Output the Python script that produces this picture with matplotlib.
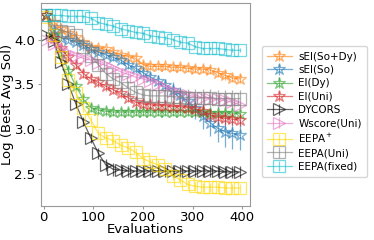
import matplotlib
matplotlib.use("Agg")
import matplotlib.pyplot as plt
import numpy as np

# evaluations (x positions of the recorded points)
evals = [5, 20, 35, 50, 65, 80, 95, 110, 125, 140, 155, 170, 185, 200,
         215, 230, 245, 260, 275, 290, 305, 320, 335, 350, 365, 380, 395]

sei_sody = [4.27, 4.20, 4.12, 4.07, 4.03, 3.97, 3.92, 3.91, 3.89, 3.86, 3.83, 3.81, 3.79, 3.72,
            3.70, 3.70, 3.70, 3.69, 3.69, 3.68, 3.67, 3.67, 3.66, 3.63, 3.60, 3.57, 3.56]
sei_so = [4.27, 4.10, 4.02, 4.00, 3.97, 3.94, 3.89, 3.86, 3.83, 3.80, 3.77, 3.72, 3.68, 3.63,
          3.58, 3.54, 3.49, 3.44, 3.38, 3.31, 3.23, 3.14, 3.07, 3.01, 2.97, 2.95, 2.93]
ei_dy = [4.27, 4.05, 3.85, 3.65, 3.48, 3.33, 3.24, 3.21, 3.20, 3.19, 3.19, 3.19, 3.19, 3.19,
         3.19, 3.19, 3.19, 3.19, 3.19, 3.19, 3.19, 3.19, 3.18, 3.18, 3.18, 3.18, 3.17]
ei_uni = [4.27, 4.02, 3.90, 3.80, 3.72, 3.62, 3.56, 3.52, 3.48, 3.44, 3.40, 3.35, 3.30, 3.28,
          3.27, 3.26, 3.26, 3.25, 3.25, 3.24, 3.22, 3.20, 3.16, 3.13, 3.12, 3.11, 3.10]
dycors = [4.05, 3.98, 3.75, 3.50, 3.28, 3.08, 2.90, 2.73, 2.60, 2.55, 2.54, 2.53, 2.53, 2.53,
          2.53, 2.53, 2.53, 2.53, 2.53, 2.53, 2.53, 2.53, 2.53, 2.53, 2.52, 2.52, 2.52]
wscore = [4.00, 3.95, 3.90, 3.85, 3.82, 3.79, 3.77, 3.74, 3.71, 3.68, 3.64, 3.61, 3.58, 3.56,
          3.54, 3.50, 3.47, 3.43, 3.40, 3.38, 3.36, 3.35, 3.34, 3.33, 3.32, 3.30, 3.27]
eepa_plus = [4.25, 4.05, 3.80, 3.55, 3.40, 3.24, 3.10, 2.95, 2.90, 2.87, 2.82, 2.79, 2.74, 2.67,
             2.63, 2.60, 2.55, 2.48, 2.43, 2.38, 2.36, 2.35, 2.35, 2.35, 2.34, 2.34, 2.34]
eepa_uni = [4.27, 4.15, 4.10, 4.08, 4.05, 3.92, 3.82, 3.72, 3.62, 3.56, 3.52, 3.46, 3.41, 3.38,
            3.37, 3.37, 3.37, 3.36, 3.36, 3.35, 3.35, 3.35, 3.35, 3.34, 3.34, 3.34, 3.34]
eepa_fixed = [4.27, 4.27, 4.27, 4.26, 4.26, 4.26, 4.24, 4.19, 4.17, 4.15, 4.12, 4.10, 4.08, 4.07,
              4.04, 4.03, 4.02, 4.00, 3.97, 3.96, 3.92, 3.90, 3.90, 3.90, 3.89, 3.88, 3.88]

# error bar half widths
err_sei_sody = [0.02, 0.03, 0.03, 0.03, 0.03, 0.03, 0.03, 0.03, 0.03, 0.03, 0.03, 0.03, 0.04, 0.04,
                0.04, 0.04, 0.04, 0.04, 0.04, 0.04, 0.04, 0.04, 0.04, 0.05, 0.05, 0.05, 0.05]
err_sei_so = [0.02, 0.03, 0.03, 0.03, 0.03, 0.03, 0.03, 0.03, 0.04, 0.04, 0.04, 0.05, 0.05, 0.05,
              0.06, 0.06, 0.07, 0.08, 0.09, 0.10, 0.12, 0.14, 0.15, 0.16, 0.17, 0.17, 0.17]
err_ei_dy = [0.02, 0.04, 0.04, 0.05, 0.05, 0.05, 0.05, 0.05, 0.05, 0.05, 0.05, 0.05, 0.05, 0.05,
             0.05, 0.05, 0.05, 0.05, 0.05, 0.05, 0.05, 0.05, 0.05, 0.05, 0.05, 0.05, 0.05]
err_ei_uni = [0.02, 0.04, 0.04, 0.05, 0.05, 0.05, 0.05, 0.05, 0.05, 0.05, 0.05, 0.05, 0.06, 0.06,
              0.06, 0.06, 0.06, 0.06, 0.06, 0.06, 0.07, 0.07, 0.07, 0.07, 0.07, 0.07, 0.07]
err_dycors = [0.04, 0.05, 0.05, 0.05, 0.05, 0.05, 0.06, 0.06, 0.07, 0.07, 0.07, 0.07, 0.07, 0.07,
              0.07, 0.07, 0.07, 0.07, 0.07, 0.07, 0.07, 0.07, 0.07, 0.07, 0.07, 0.07, 0.07]
err_wscore = [0.03, 0.03, 0.03, 0.04, 0.04, 0.04, 0.04, 0.04, 0.04, 0.04, 0.04, 0.04, 0.04, 0.04,
              0.04, 0.04, 0.04, 0.04, 0.04, 0.04, 0.04, 0.04, 0.04, 0.04, 0.04, 0.04, 0.04]
err_eepa_plus = [0.02, 0.05, 0.05, 0.05, 0.05, 0.05, 0.05, 0.05, 0.05, 0.05, 0.05, 0.05, 0.05, 0.05,
                 0.05, 0.05, 0.05, 0.05, 0.05, 0.05, 0.05, 0.05, 0.05, 0.05, 0.05, 0.05, 0.05]
err_eepa_uni = [0.02, 0.03, 0.03, 0.04, 0.05, 0.05, 0.05, 0.06, 0.06, 0.07, 0.07, 0.08, 0.08, 0.09,
                0.09, 0.10, 0.10, 0.10, 0.10, 0.10, 0.10, 0.10, 0.10, 0.10, 0.10, 0.10, 0.10]
err_eepa_fixed = [0.02, 0.02, 0.02, 0.02, 0.02, 0.02, 0.02, 0.02, 0.02, 0.02, 0.02, 0.02, 0.02, 0.02,
                  0.02, 0.02, 0.02, 0.02, 0.02, 0.02, 0.02, 0.02, 0.02, 0.02, 0.02, 0.02, 0.02]

labels = ["sEI(So+Dy)", "sEI(So)", "EI(Dy)", "EI(Uni)", "DYCORS",
          "Wscore(Uni)", "EEPA$^+$", "EEPA(Uni)", "EEPA(fixed)"]
series = [sei_sody, sei_so, ei_dy, ei_uni, dycors, wscore, eepa_plus, eepa_uni, eepa_fixed]
errors = [err_sei_sody, err_sei_so, err_ei_dy, err_ei_uni, err_dycors,
          err_wscore, err_eepa_plus, err_eepa_uni, err_eepa_fixed]
colors = ["tab:orange", "tab:blue", "tab:green", "tab:red", "black",
          "tab:pink", "gold", "tab:gray", "tab:cyan"]
markers = ["*", "*", "*", "*", ">", ">", "s", "s", "s"]

fig = plt.figure(figsize=(3.74, 2.4), dpi=100)
ax = fig.add_axes([0.11, 0.142, 0.558, 0.846])

for y, e, lab, c, m in zip(series, errors, labels, colors, markers):
    ax.errorbar(evals, y, yerr=e, label=lab, color=c, marker=m, markersize=9,
                markerfacecolor="none", markeredgewidth=0.9, linewidth=0.9,
                elinewidth=0.9, alpha=0.6)

ax.set_xlim(-5, 415)
ax.set_ylim(2.14, 4.41)
ax.set_yticks([2.5, 3.0, 3.5, 4.0])
ax.set_xticks([0, 100, 200, 300, 400])
ax.tick_params(labelsize=9.5, length=2, pad=2, color="0.6")
for s in ax.spines.values():
    s.set_color("0.6")
ax.set_xlabel("Evaluations", fontsize=9.5, labelpad=-1)
ax.set_ylabel("Log (Best Avg Sol)", fontsize=9.5, labelpad=0)

ax.legend(loc="center left", bbox_to_anchor=(1.057, 0.465), borderaxespad=0,
          fontsize=7.5, handlelength=2.4, labelspacing=0.32, borderpad=0.5,
          handletextpad=0.6)

fig.savefig("out.png", dpi=100)
